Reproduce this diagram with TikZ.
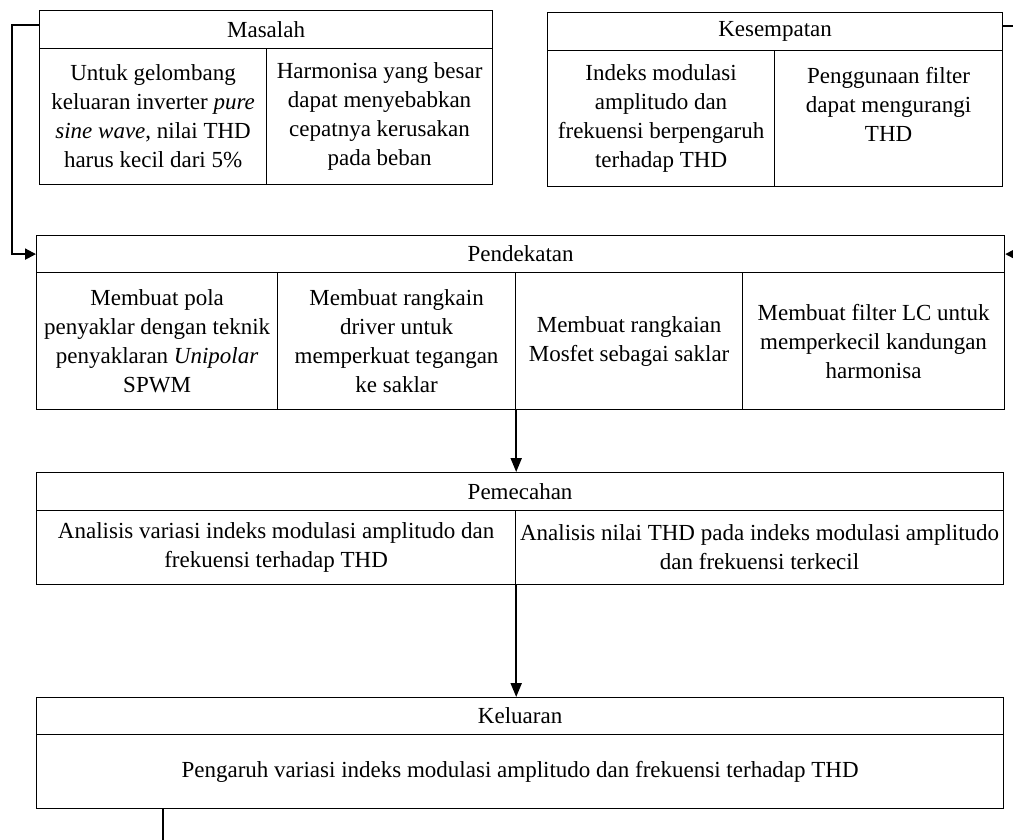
\documentclass[tikz,border=0pt]{standalone}
\usepackage{fontspec}
\setmainfont{Liberation Serif}
\usetikzlibrary{arrows.meta,calc}
\newcommand{\cellfont}{\fontsize{23}{29}\selectfont}
\tikzset{
  cellbox/.style={
    rectangle, draw=black, line width=1.2pt, anchor=north west,
    inner sep=0pt, align=center, font=\cellfont
  },
  flowarrow/.style={
    -{Triangle[length=14pt,width=11pt]}, line width=2pt
  },
  sidearrow/.style={
    -{Triangle[length=11pt,width=11pt]}, line width=2pt
  },
}

\begin{document}
\begin{tikzpicture}[x=1pt,y=-1pt]
  \useasboundingbox (0,0) rectangle (1013,839);
  \clip (0,0) rectangle (1013,839);

  \node[cellbox, minimum width=453pt, minimum height=38pt] (mashead) at (39,10) {Masalah};
  \node[cellbox, minimum width=227pt, minimum height=136pt] (mas1) at (39,48)
    {Untuk gelombang\\keluaran inverter \textit{pure}\\\textit{sine wave}, nilai THD\\harus kecil dari 5\%};
  \node[cellbox, minimum width=226pt, minimum height=136pt] (mas2) at (266,48)
    {Harmonisa yang besar\\dapat menyebabkan\\cepatnya kerusakan\\pada beban};

  \node[cellbox, minimum width=455pt, minimum height=38pt] (keshead) at (547,12) {Kesempatan};
  \node[cellbox, minimum width=227pt, minimum height=136pt] (kes1) at (547,50)
    {Indeks modulasi\\amplitudo dan\\frekuensi berpengaruh\\terhadap THD};
  \node[cellbox, minimum width=228pt, minimum height=136pt] (kes2) at (774,50)
    {Penggunaan filter\\dapat mengurangi\\THD\\~};

  \node[cellbox, minimum width=968pt, minimum height=37pt] (pdkhead) at (36,235) {Pendekatan};
  \node[cellbox, minimum width=241pt, minimum height=137pt] (pdk1) at (36,272)
    {Membuat pola\\penyaklar dengan teknik\\penyaklaran \textit{Unipolar}\\SPWM};
  \node[cellbox, minimum width=238pt, minimum height=137pt] (pdk2) at (277,272)
    {Membuat rangkain\\driver untuk\\memperkuat tegangan\\ke saklar};
  \node[cellbox, minimum width=227pt, minimum height=137pt] (pdk3) at (515,272)
    {Membuat rangkaian\\Mosfet sebagai saklar};
  \node[cellbox, minimum width=262pt, minimum height=137pt] (pdk4) at (742,272)
    {Membuat filter LC untuk\\memperkecil kandungan\\harmonisa};

  \node[cellbox, minimum width=967pt, minimum height=38pt] (pmchead) at (36,472) {Pemecahan};
  \node[cellbox, minimum width=479pt, minimum height=74pt] (pmc1) at (36,510)
    {Analisis variasi indeks modulasi amplitudo dan\\frekuensi terhadap THD};
  \node[cellbox, minimum width=488pt, minimum height=74pt] (pmc2) at (515,510)
    {Analisis nilai THD pada indeks modulasi amplitudo\\dan frekuensi terkecil};

  \node[cellbox, minimum width=967pt, minimum height=37pt] (kelhead) at (36,697) {Keluaran};
  \node[cellbox, minimum width=967pt, minimum height=74pt] (kelbody) at (36,734)
    {Pengaruh variasi indeks modulasi amplitudo dan frekuensi terhadap THD};

  \draw[sidearrow] ([yshift=5pt]mashead.west) -- ++(-27,0) |- (pdkhead.west);
  \draw[sidearrow] ([yshift=6pt]keshead.east) -- ++(20,0) |- (pdkhead.east);
  \draw[flowarrow] (pdk2.south east) -- (pdk2.south east |- pmchead.north);
  \draw[flowarrow] (pmc1.south east) -- (pmc1.south east |- kelhead.north);

  \coordinate (kelout) at (163,850);
  \draw[line width=1.2pt] (kelbody.south -| kelout) -- (kelout);
\end{tikzpicture}
\end{document}
